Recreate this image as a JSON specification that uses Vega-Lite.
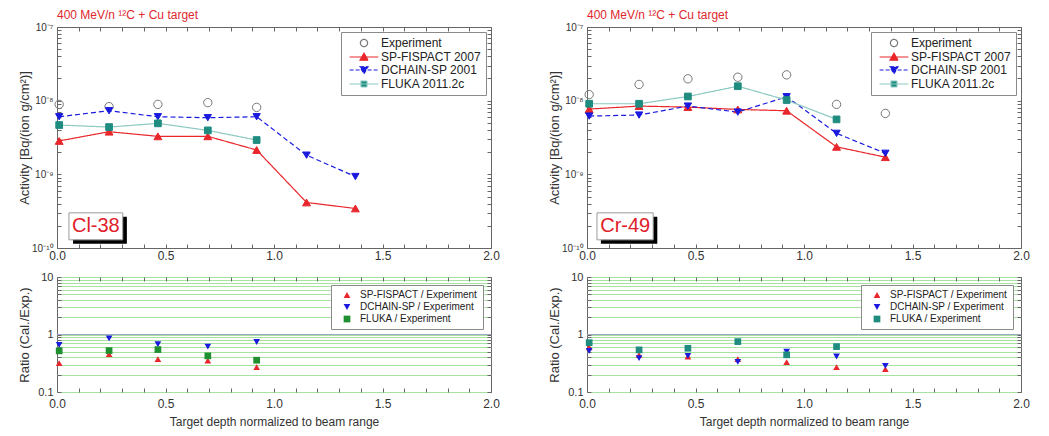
{
  "$schema": "https://vega.github.io/schema/vega-lite/v6.json",
  "padding": {"left": 18, "top": 8, "right": 5, "bottom": 3},
  "background": "white",
  "config": {
    "font": "Liberation Sans",
    "view": {"stroke": "#666666", "strokeWidth": 1},
    "axis": {"domain": false, "grid": false, "tickColor": "#666666", "tickSize": -4, "tickWidth": 1, "labelPadding": 7, "labelFontSize": 11, "labelColor": "#333333", "labelFont": "Liberation Sans", "titleFont": "Liberation Sans", "titleFontWeight": "normal", "titleFontSize": 13, "titleColor": "#333333", "titleLimit": 400, "labelOverlap": false, "labelFlush": false, "labelBound": false},
    "legend": {"labelFont": "Liberation Sans", "labelColor": "#222222"},
    "title": {"font": "Liberation Sans"}
  },
  "datasets": {
    "activity": [
      {"nuclide": "Cl-38", "series": "Experiment", "depth": 0.01, "activity": 8.9e-9},
      {"nuclide": "Cl-38", "series": "Experiment", "depth": 0.24, "activity": 8.3e-9},
      {"nuclide": "Cl-38", "series": "Experiment", "depth": 0.465, "activity": 8.9e-9},
      {"nuclide": "Cl-38", "series": "Experiment", "depth": 0.695, "activity": 9.4e-9},
      {"nuclide": "Cl-38", "series": "Experiment", "depth": 0.92, "activity": 8.1e-9},
      {"nuclide": "Cl-38", "series": "SP-FISPACT 2007", "depth": 0.01, "activity": 2.84e-9},
      {"nuclide": "Cl-38", "series": "SP-FISPACT 2007", "depth": 0.24, "activity": 3.79e-9},
      {"nuclide": "Cl-38", "series": "SP-FISPACT 2007", "depth": 0.465, "activity": 3.28e-9},
      {"nuclide": "Cl-38", "series": "SP-FISPACT 2007", "depth": 0.695, "activity": 3.28e-9},
      {"nuclide": "Cl-38", "series": "SP-FISPACT 2007", "depth": 0.92, "activity": 2.14e-9},
      {"nuclide": "Cl-38", "series": "SP-FISPACT 2007", "depth": 1.15, "activity": 4.15e-10},
      {"nuclide": "Cl-38", "series": "SP-FISPACT 2007", "depth": 1.375, "activity": 3.44e-10},
      {"nuclide": "Cl-38", "series": "DCHAIN-SP 2001", "depth": 0.01, "activity": 6.05e-9},
      {"nuclide": "Cl-38", "series": "DCHAIN-SP 2001", "depth": 0.24, "activity": 7.3e-9},
      {"nuclide": "Cl-38", "series": "DCHAIN-SP 2001", "depth": 0.465, "activity": 6.05e-9},
      {"nuclide": "Cl-38", "series": "DCHAIN-SP 2001", "depth": 0.695, "activity": 5.87e-9},
      {"nuclide": "Cl-38", "series": "DCHAIN-SP 2001", "depth": 0.92, "activity": 6.05e-9},
      {"nuclide": "Cl-38", "series": "DCHAIN-SP 2001", "depth": 1.15, "activity": 1.82e-9},
      {"nuclide": "Cl-38", "series": "DCHAIN-SP 2001", "depth": 1.375, "activity": 9.33e-10},
      {"nuclide": "Cl-38", "series": "FLUKA 2011.2c", "depth": 0.01, "activity": 4.67e-9},
      {"nuclide": "Cl-38", "series": "FLUKA 2011.2c", "depth": 0.24, "activity": 4.38e-9},
      {"nuclide": "Cl-38", "series": "FLUKA 2011.2c", "depth": 0.465, "activity": 4.92e-9},
      {"nuclide": "Cl-38", "series": "FLUKA 2011.2c", "depth": 0.695, "activity": 3.95e-9},
      {"nuclide": "Cl-38", "series": "FLUKA 2011.2c", "depth": 0.92, "activity": 2.92e-9},
      {"nuclide": "Cr-49", "series": "Experiment", "depth": 0.01, "activity": 1.21e-8},
      {"nuclide": "Cr-49", "series": "Experiment", "depth": 0.24, "activity": 1.66e-8},
      {"nuclide": "Cr-49", "series": "Experiment", "depth": 0.465, "activity": 1.98e-8},
      {"nuclide": "Cr-49", "series": "Experiment", "depth": 0.695, "activity": 2.08e-8},
      {"nuclide": "Cr-49", "series": "Experiment", "depth": 0.92, "activity": 2.24e-8},
      {"nuclide": "Cr-49", "series": "Experiment", "depth": 1.15, "activity": 8.9e-9},
      {"nuclide": "Cr-49", "series": "Experiment", "depth": 1.375, "activity": 6.71e-9},
      {"nuclide": "Cr-49", "series": "SP-FISPACT 2007", "depth": 0.01, "activity": 7.69e-9},
      {"nuclide": "Cr-49", "series": "SP-FISPACT 2007", "depth": 0.24, "activity": 8.44e-9},
      {"nuclide": "Cr-49", "series": "SP-FISPACT 2007", "depth": 0.465, "activity": 8.18e-9},
      {"nuclide": "Cr-49", "series": "SP-FISPACT 2007", "depth": 0.695, "activity": 7.6e-9},
      {"nuclide": "Cr-49", "series": "SP-FISPACT 2007", "depth": 0.92, "activity": 7.3e-9},
      {"nuclide": "Cr-49", "series": "SP-FISPACT 2007", "depth": 1.15, "activity": 2.36e-9},
      {"nuclide": "Cr-49", "series": "SP-FISPACT 2007", "depth": 1.375, "activity": 1.71e-9},
      {"nuclide": "Cr-49", "series": "DCHAIN-SP 2001", "depth": 0.01, "activity": 6.18e-9},
      {"nuclide": "Cr-49", "series": "DCHAIN-SP 2001", "depth": 0.24, "activity": 6.38e-9},
      {"nuclide": "Cr-49", "series": "DCHAIN-SP 2001", "depth": 0.465, "activity": 8.44e-9},
      {"nuclide": "Cr-49", "series": "DCHAIN-SP 2001", "depth": 0.695, "activity": 7.0e-9},
      {"nuclide": "Cr-49", "series": "DCHAIN-SP 2001", "depth": 0.92, "activity": 1.13e-8},
      {"nuclide": "Cr-49", "series": "DCHAIN-SP 2001", "depth": 1.15, "activity": 3.6e-9},
      {"nuclide": "Cr-49", "series": "DCHAIN-SP 2001", "depth": 1.375, "activity": 1.93e-9},
      {"nuclide": "Cr-49", "series": "FLUKA 2011.2c", "depth": 0.01, "activity": 9.08e-9},
      {"nuclide": "Cr-49", "series": "FLUKA 2011.2c", "depth": 0.24, "activity": 9.08e-9},
      {"nuclide": "Cr-49", "series": "FLUKA 2011.2c", "depth": 0.465, "activity": 1.14e-8},
      {"nuclide": "Cr-49", "series": "FLUKA 2011.2c", "depth": 0.695, "activity": 1.57e-8},
      {"nuclide": "Cr-49", "series": "FLUKA 2011.2c", "depth": 0.92, "activity": 1.02e-8},
      {"nuclide": "Cr-49", "series": "FLUKA 2011.2c", "depth": 1.15, "activity": 5.57e-9}
    ],
    "ratio": [
      {"nuclide": "Cl-38", "series": "SP-FISPACT / Experiment", "depth": 0.01, "ratio": 0.317},
      {"nuclide": "Cl-38", "series": "SP-FISPACT / Experiment", "depth": 0.24, "ratio": 0.454},
      {"nuclide": "Cl-38", "series": "SP-FISPACT / Experiment", "depth": 0.465, "ratio": 0.373},
      {"nuclide": "Cl-38", "series": "SP-FISPACT / Experiment", "depth": 0.695, "ratio": 0.353},
      {"nuclide": "Cl-38", "series": "SP-FISPACT / Experiment", "depth": 0.92, "ratio": 0.27},
      {"nuclide": "Cl-38", "series": "DCHAIN-SP / Experiment", "depth": 0.01, "ratio": 0.658},
      {"nuclide": "Cl-38", "series": "DCHAIN-SP / Experiment", "depth": 0.24, "ratio": 0.859},
      {"nuclide": "Cl-38", "series": "DCHAIN-SP / Experiment", "depth": 0.465, "ratio": 0.676},
      {"nuclide": "Cl-38", "series": "DCHAIN-SP / Experiment", "depth": 0.695, "ratio": 0.616},
      {"nuclide": "Cl-38", "series": "DCHAIN-SP / Experiment", "depth": 0.92, "ratio": 0.741},
      {"nuclide": "Cl-38", "series": "FLUKA / Experiment", "depth": 0.01, "ratio": 0.519},
      {"nuclide": "Cl-38", "series": "FLUKA / Experiment", "depth": 0.24, "ratio": 0.525},
      {"nuclide": "Cl-38", "series": "FLUKA / Experiment", "depth": 0.465, "ratio": 0.547},
      {"nuclide": "Cl-38", "series": "FLUKA / Experiment", "depth": 0.695, "ratio": 0.425},
      {"nuclide": "Cl-38", "series": "FLUKA / Experiment", "depth": 0.92, "ratio": 0.357},
      {"nuclide": "Cr-49", "series": "SP-FISPACT / Experiment", "depth": 0.01, "ratio": 0.6},
      {"nuclide": "Cr-49", "series": "SP-FISPACT / Experiment", "depth": 0.24, "ratio": 0.443},
      {"nuclide": "Cr-49", "series": "SP-FISPACT / Experiment", "depth": 0.465, "ratio": 0.414},
      {"nuclide": "Cr-49", "series": "SP-FISPACT / Experiment", "depth": 0.695, "ratio": 0.372},
      {"nuclide": "Cr-49", "series": "SP-FISPACT / Experiment", "depth": 0.92, "ratio": 0.331},
      {"nuclide": "Cr-49", "series": "SP-FISPACT / Experiment", "depth": 1.15, "ratio": 0.27},
      {"nuclide": "Cr-49", "series": "SP-FISPACT / Experiment", "depth": 1.375, "ratio": 0.25},
      {"nuclide": "Cr-49", "series": "DCHAIN-SP / Experiment", "depth": 0.01, "ratio": 0.519},
      {"nuclide": "Cr-49", "series": "DCHAIN-SP / Experiment", "depth": 0.24, "ratio": 0.387},
      {"nuclide": "Cr-49", "series": "DCHAIN-SP / Experiment", "depth": 0.465, "ratio": 0.425},
      {"nuclide": "Cr-49", "series": "DCHAIN-SP / Experiment", "depth": 0.695, "ratio": 0.334},
      {"nuclide": "Cr-49", "series": "DCHAIN-SP / Experiment", "depth": 0.92, "ratio": 0.505},
      {"nuclide": "Cr-49", "series": "DCHAIN-SP / Experiment", "depth": 1.15, "ratio": 0.414},
      {"nuclide": "Cr-49", "series": "DCHAIN-SP / Experiment", "depth": 1.375, "ratio": 0.285},
      {"nuclide": "Cr-49", "series": "FLUKA / Experiment", "depth": 0.01, "ratio": 0.722},
      {"nuclide": "Cr-49", "series": "FLUKA / Experiment", "depth": 0.24, "ratio": 0.54},
      {"nuclide": "Cr-49", "series": "FLUKA / Experiment", "depth": 0.465, "ratio": 0.576},
      {"nuclide": "Cr-49", "series": "FLUKA / Experiment", "depth": 0.695, "ratio": 0.752},
      {"nuclide": "Cr-49", "series": "FLUKA / Experiment", "depth": 0.92, "ratio": 0.443},
      {"nuclide": "Cr-49", "series": "FLUKA / Experiment", "depth": 1.15, "ratio": 0.616}
    ]
  },
  "columns": 2,
  "spacing": {"row": 29, "column": 96},
  "bounds": "flush",
  "concat": [
    {
      "width": 434, "height": 221,
      "title": {"text": "400 MeV/n ¹²C + Cu target", "anchor": "start", "frame": "group", "color": "#e0282e", "fontSize": 12, "fontWeight": "normal", "offset": 0},
      "data": {"name": "activity"},
      "transform": [{"filter": "datum.nuclide == 'Cl-38'"}],
      "layer": [
        {
          "transform": [{"filter": "datum.series != 'Experiment'"}],
          "mark": {"type": "line", "strokeWidth": 1.2},
          "encoding": {
            "x": {"field": "depth", "type": "quantitative", "scale": {"domain": [0, 2], "nice": false, "zero": false}, "axis": {"orient": "bottom", "title": null, "labelFontSize": 12, "labelPadding": 6, "values": [0,0.1,0.2,0.3,0.4,0.5,0.6,0.7,0.8,0.9,1,1.1,1.2,1.3,1.4,1.5,1.6,1.7,1.8,1.9,2], "labelExpr": "indexof([0, 0.5, 1, 1.5, 2], datum.value) >= 0 ? format(datum.value, '.1f') : ''"}},
            "y": {"field": "activity", "type": "quantitative", "scale": {"type": "log", "domain": [1e-10, 1e-7], "nice": false}, "axis": {"orient": "left", "title": "Activity [Bq/(ion g/cm²)]", "titlePadding": 0, "labelFontSize": 10, "labelPadding": 8, "values": [1e-10,2e-10,3e-10,4e-10,5e-10,6e-10,7e-10,8e-10,9e-10,1e-9,2e-9,3e-9,4e-9,5e-9,6e-9,7e-9,8e-9,9e-9,1e-8,2e-8,3e-8,4e-8,5e-8,6e-8,7e-8,8e-8,9e-8,1e-7], "labelExpr": "datum.value == 1e-7 ? '10⁻⁷' : datum.value == 1e-8 ? '10⁻⁸' : datum.value == 1e-9 ? '10⁻⁹' : datum.value == 1e-10 ? '10⁻¹⁰' : ''"}},
            "stroke": {"field": "series", "type": "nominal", "scale": {"domain": ["SP-FISPACT 2007", "DCHAIN-SP 2001", "FLUKA 2011.2c"], "range": ["#e8262b", "#1a1adf", "#8cc9c0"]}, "legend": null},
            "strokeDash": {"field": "series", "type": "nominal", "scale": {"domain": ["SP-FISPACT 2007", "DCHAIN-SP 2001", "FLUKA 2011.2c"], "range": [[1, 0], [5, 3], [1, 0]]}, "legend": null}
          }
        },
        {
          "mark": {"type": "point", "opacity": 1, "strokeWidth": 1},
          "encoding": {
            "x": {"field": "depth", "type": "quantitative", "axis": {"orient": "top", "title": null, "labels": false, "values": [0,0.1,0.2,0.3,0.4,0.5,0.6,0.7,0.8,0.9,1,1.1,1.2,1.3,1.4,1.5,1.6,1.7,1.8,1.9,2]}},
            "y": {"field": "activity", "type": "quantitative", "axis": {"orient": "right", "title": null, "labels": false, "values": [1e-10,2e-10,3e-10,4e-10,5e-10,6e-10,7e-10,8e-10,9e-10,1e-9,2e-9,3e-9,4e-9,5e-9,6e-9,7e-9,8e-9,9e-9,1e-8,2e-8,3e-8,4e-8,5e-8,6e-8,7e-8,8e-8,9e-8,1e-7]}},
            "shape": {"field": "series", "type": "nominal", "scale": {"domain": ["Experiment", "SP-FISPACT 2007", "DCHAIN-SP 2001", "FLUKA 2011.2c"], "range": ["circle", "triangle-up", "triangle-down", "square"]}, "legend": null},
            "fill": {"field": "series", "type": "nominal", "scale": {"domain": ["Experiment", "SP-FISPACT 2007", "DCHAIN-SP 2001", "FLUKA 2011.2c"], "range": ["transparent", "#e8262b", "#1a1adf", "#1f8c80"]}, "legend": null},
            "stroke": {"field": "series", "type": "nominal", "scale": {"domain": ["Experiment", "SP-FISPACT 2007", "DCHAIN-SP 2001", "FLUKA 2011.2c"], "range": ["#777777", "#e8262b", "#1a1adf", "#1f8c80"]}, "legend": null},
            "size": {"field": "series", "type": "nominal", "scale": {"domain": ["Experiment", "SP-FISPACT 2007", "DCHAIN-SP 2001", "FLUKA 2011.2c"], "range": [70, 45, 45, 36]}, "legend": null}
          }
        },
        {
          "transform": [{"filter": "false"}],
          "mark": {"type": "point", "opacity": 1, "filled": true},
          "encoding": {
            "shape": {"field": "series", "type": "nominal", "scale": {"domain": ["Experiment", "SP-FISPACT 2007", "DCHAIN-SP 2001", "FLUKA 2011.2c"], "range": ["M0.9,0A0.9,0.9,0,1,1,-0.9,0A0.9,0.9,0,1,1,0.9,0Z", "M-3.6,0H3.6M-1,0.8L1,0.8L0,-0.95Z", "M-3.6,0H3.6M-1,-0.8L1,-0.8L0,0.95Z", "M-3.6,0H3.6M-0.75,-0.75H0.75V0.75H-0.75Z"]}, "legend": {"title": null, "orient": "top-right", "direction": "vertical", "offset": 5, "padding": 5, "strokeColor": "#8a8a8a", "fillColor": "white", "labelFontSize": 12, "symbolSize": 64, "symbolOffset": 12, "labelOffset": 11, "rowPadding": 1, "symbolStrokeWidth": 1.2, "symbolOpacity": 1}},
            "fill": {"field": "series", "type": "nominal", "scale": {"domain": ["Experiment", "SP-FISPACT 2007", "DCHAIN-SP 2001", "FLUKA 2011.2c"], "range": ["transparent", "#e8262b", "#1a1adf", "#1f8c80"]}, "legend": {"title": null, "orient": "top-right", "direction": "vertical", "offset": 5, "padding": 5, "strokeColor": "#8a8a8a", "fillColor": "white", "labelFontSize": 12, "symbolSize": 64, "symbolOffset": 12, "labelOffset": 11, "rowPadding": 1, "symbolStrokeWidth": 1.2, "symbolOpacity": 1}},
            "stroke": {"field": "series", "type": "nominal", "scale": {"domain": ["Experiment", "SP-FISPACT 2007", "DCHAIN-SP 2001", "FLUKA 2011.2c"], "range": ["#777777", "#e8262b", "#1a1adf", "#8cc9c0"]}, "legend": {"title": null, "orient": "top-right", "direction": "vertical", "offset": 5, "padding": 5, "strokeColor": "#8a8a8a", "fillColor": "white", "labelFontSize": 12, "symbolSize": 64, "symbolOffset": 12, "labelOffset": 11, "rowPadding": 1, "symbolStrokeWidth": 1.2, "symbolOpacity": 1}},
            "strokeDash": {"field": "series", "type": "nominal", "scale": {"domain": ["Experiment", "SP-FISPACT 2007", "DCHAIN-SP 2001", "FLUKA 2011.2c"], "range": [[1, 0], [1, 0], [4, 2], [1, 0]]}, "legend": {"title": null, "orient": "top-right", "direction": "vertical", "offset": 5, "padding": 5, "strokeColor": "#8a8a8a", "fillColor": "white", "labelFontSize": 12, "symbolSize": 64, "symbolOffset": 12, "labelOffset": 11, "rowPadding": 1, "symbolStrokeWidth": 1.2, "symbolOpacity": 1}}
          }
        },
        {
          "data": {"values": [{"nuclide": "Cl-38"}]},
          "mark": {"type": "rect", "fill": "black"},
          "encoding": {"x": {"datum": 0.074, "axis": null}, "x2": {"datum": 0.322}, "y": {"datum": 2.65e-10, "axis": null}, "y2": {"datum": 1.14e-10}}
        },
        {
          "data": {"values": [{"nuclide": "Cl-38"}]},
          "mark": {"type": "rect", "fill": "white", "stroke": "#9a9a9a", "strokeWidth": 1},
          "encoding": {"x": {"datum": 0.055, "axis": null}, "x2": {"datum": 0.303}, "y": {"datum": 3.0e-10, "axis": null}, "y2": {"datum": 1.29e-10}}
        },
        {
          "data": {"values": [{"nuclide": "Cl-38"}]},
          "mark": {"type": "text", "fontSize": 20, "color": "#e0202a", "align": "center", "baseline": "middle", "font": "Liberation Sans"},
          "encoding": {"x": {"datum": 0.179, "axis": null}, "y": {"datum": 1.97e-10, "axis": null}, "text": {"field": "nuclide"}}
        }
      ],
      "resolve": {"axis": {"x": "independent", "y": "independent"}, "scale": {"shape": "independent", "fill": "independent", "stroke": "independent", "strokeDash": "independent", "size": "independent"}}
    },
    {
      "width": 434, "height": 221,
      "title": {"text": "400 MeV/n ¹²C + Cu target", "anchor": "start", "frame": "group", "color": "#e0282e", "fontSize": 12, "fontWeight": "normal", "offset": 0},
      "data": {"name": "activity"},
      "transform": [{"filter": "datum.nuclide == 'Cr-49'"}],
      "layer": [
        {
          "transform": [{"filter": "datum.series != 'Experiment'"}],
          "mark": {"type": "line", "strokeWidth": 1.2},
          "encoding": {
            "x": {"field": "depth", "type": "quantitative", "scale": {"domain": [0, 2], "nice": false, "zero": false}, "axis": {"orient": "bottom", "title": null, "labelFontSize": 12, "labelPadding": 6, "values": [0,0.1,0.2,0.3,0.4,0.5,0.6,0.7,0.8,0.9,1,1.1,1.2,1.3,1.4,1.5,1.6,1.7,1.8,1.9,2], "labelExpr": "indexof([0, 0.5, 1, 1.5, 2], datum.value) >= 0 ? format(datum.value, '.1f') : ''"}},
            "y": {"field": "activity", "type": "quantitative", "scale": {"type": "log", "domain": [1e-10, 1e-7], "nice": false}, "axis": {"orient": "left", "title": "Activity [Bq/(ion g/cm²)]", "titlePadding": 0, "labelFontSize": 10, "labelPadding": 8, "values": [1e-10,2e-10,3e-10,4e-10,5e-10,6e-10,7e-10,8e-10,9e-10,1e-9,2e-9,3e-9,4e-9,5e-9,6e-9,7e-9,8e-9,9e-9,1e-8,2e-8,3e-8,4e-8,5e-8,6e-8,7e-8,8e-8,9e-8,1e-7], "labelExpr": "datum.value == 1e-7 ? '10⁻⁷' : datum.value == 1e-8 ? '10⁻⁸' : datum.value == 1e-9 ? '10⁻⁹' : datum.value == 1e-10 ? '10⁻¹⁰' : ''"}},
            "stroke": {"field": "series", "type": "nominal", "scale": {"domain": ["SP-FISPACT 2007", "DCHAIN-SP 2001", "FLUKA 2011.2c"], "range": ["#e8262b", "#1a1adf", "#8cc9c0"]}, "legend": null},
            "strokeDash": {"field": "series", "type": "nominal", "scale": {"domain": ["SP-FISPACT 2007", "DCHAIN-SP 2001", "FLUKA 2011.2c"], "range": [[1, 0], [5, 3], [1, 0]]}, "legend": null}
          }
        },
        {
          "mark": {"type": "point", "opacity": 1, "strokeWidth": 1},
          "encoding": {
            "x": {"field": "depth", "type": "quantitative", "axis": {"orient": "top", "title": null, "labels": false, "values": [0,0.1,0.2,0.3,0.4,0.5,0.6,0.7,0.8,0.9,1,1.1,1.2,1.3,1.4,1.5,1.6,1.7,1.8,1.9,2]}},
            "y": {"field": "activity", "type": "quantitative", "axis": {"orient": "right", "title": null, "labels": false, "values": [1e-10,2e-10,3e-10,4e-10,5e-10,6e-10,7e-10,8e-10,9e-10,1e-9,2e-9,3e-9,4e-9,5e-9,6e-9,7e-9,8e-9,9e-9,1e-8,2e-8,3e-8,4e-8,5e-8,6e-8,7e-8,8e-8,9e-8,1e-7]}},
            "shape": {"field": "series", "type": "nominal", "scale": {"domain": ["Experiment", "SP-FISPACT 2007", "DCHAIN-SP 2001", "FLUKA 2011.2c"], "range": ["circle", "triangle-up", "triangle-down", "square"]}, "legend": null},
            "fill": {"field": "series", "type": "nominal", "scale": {"domain": ["Experiment", "SP-FISPACT 2007", "DCHAIN-SP 2001", "FLUKA 2011.2c"], "range": ["transparent", "#e8262b", "#1a1adf", "#1f8c80"]}, "legend": null},
            "stroke": {"field": "series", "type": "nominal", "scale": {"domain": ["Experiment", "SP-FISPACT 2007", "DCHAIN-SP 2001", "FLUKA 2011.2c"], "range": ["#777777", "#e8262b", "#1a1adf", "#1f8c80"]}, "legend": null},
            "size": {"field": "series", "type": "nominal", "scale": {"domain": ["Experiment", "SP-FISPACT 2007", "DCHAIN-SP 2001", "FLUKA 2011.2c"], "range": [70, 45, 45, 36]}, "legend": null}
          }
        },
        {
          "transform": [{"filter": "false"}],
          "mark": {"type": "point", "opacity": 1, "filled": true},
          "encoding": {
            "shape": {"field": "series", "type": "nominal", "scale": {"domain": ["Experiment", "SP-FISPACT 2007", "DCHAIN-SP 2001", "FLUKA 2011.2c"], "range": ["M0.9,0A0.9,0.9,0,1,1,-0.9,0A0.9,0.9,0,1,1,0.9,0Z", "M-3.6,0H3.6M-1,0.8L1,0.8L0,-0.95Z", "M-3.6,0H3.6M-1,-0.8L1,-0.8L0,0.95Z", "M-3.6,0H3.6M-0.75,-0.75H0.75V0.75H-0.75Z"]}, "legend": {"title": null, "orient": "top-right", "direction": "vertical", "offset": 5, "padding": 5, "strokeColor": "#8a8a8a", "fillColor": "white", "labelFontSize": 12, "symbolSize": 64, "symbolOffset": 12, "labelOffset": 11, "rowPadding": 1, "symbolStrokeWidth": 1.2, "symbolOpacity": 1}},
            "fill": {"field": "series", "type": "nominal", "scale": {"domain": ["Experiment", "SP-FISPACT 2007", "DCHAIN-SP 2001", "FLUKA 2011.2c"], "range": ["transparent", "#e8262b", "#1a1adf", "#1f8c80"]}, "legend": {"title": null, "orient": "top-right", "direction": "vertical", "offset": 5, "padding": 5, "strokeColor": "#8a8a8a", "fillColor": "white", "labelFontSize": 12, "symbolSize": 64, "symbolOffset": 12, "labelOffset": 11, "rowPadding": 1, "symbolStrokeWidth": 1.2, "symbolOpacity": 1}},
            "stroke": {"field": "series", "type": "nominal", "scale": {"domain": ["Experiment", "SP-FISPACT 2007", "DCHAIN-SP 2001", "FLUKA 2011.2c"], "range": ["#777777", "#e8262b", "#1a1adf", "#8cc9c0"]}, "legend": {"title": null, "orient": "top-right", "direction": "vertical", "offset": 5, "padding": 5, "strokeColor": "#8a8a8a", "fillColor": "white", "labelFontSize": 12, "symbolSize": 64, "symbolOffset": 12, "labelOffset": 11, "rowPadding": 1, "symbolStrokeWidth": 1.2, "symbolOpacity": 1}},
            "strokeDash": {"field": "series", "type": "nominal", "scale": {"domain": ["Experiment", "SP-FISPACT 2007", "DCHAIN-SP 2001", "FLUKA 2011.2c"], "range": [[1, 0], [1, 0], [4, 2], [1, 0]]}, "legend": {"title": null, "orient": "top-right", "direction": "vertical", "offset": 5, "padding": 5, "strokeColor": "#8a8a8a", "fillColor": "white", "labelFontSize": 12, "symbolSize": 64, "symbolOffset": 12, "labelOffset": 11, "rowPadding": 1, "symbolStrokeWidth": 1.2, "symbolOpacity": 1}}
          }
        },
        {
          "data": {"values": [{"nuclide": "Cr-49"}]},
          "mark": {"type": "rect", "fill": "black"},
          "encoding": {"x": {"datum": 0.064, "axis": null}, "x2": {"datum": 0.324}, "y": {"datum": 2.65e-10, "axis": null}, "y2": {"datum": 1.14e-10}}
        },
        {
          "data": {"values": [{"nuclide": "Cr-49"}]},
          "mark": {"type": "rect", "fill": "white", "stroke": "#9a9a9a", "strokeWidth": 1},
          "encoding": {"x": {"datum": 0.046, "axis": null}, "x2": {"datum": 0.305}, "y": {"datum": 3.0e-10, "axis": null}, "y2": {"datum": 1.29e-10}}
        },
        {
          "data": {"values": [{"nuclide": "Cr-49"}]},
          "mark": {"type": "text", "fontSize": 20, "color": "#e0202a", "align": "center", "baseline": "middle", "font": "Liberation Sans"},
          "encoding": {"x": {"datum": 0.176, "axis": null}, "y": {"datum": 1.97e-10, "axis": null}, "text": {"field": "nuclide"}}
        }
      ],
      "resolve": {"axis": {"x": "independent", "y": "independent"}, "scale": {"shape": "independent", "fill": "independent", "stroke": "independent", "strokeDash": "independent", "size": "independent"}}
    },
    {
      "width": 434, "height": 115,
      "data": {"name": "ratio"},
      "transform": [{"filter": "datum.nuclide == 'Cl-38'"}],
      "layer": [
        {
          "data": {"values": [{"nuclide": "Cl-38"}]},
          "mark": {"type": "rule", "color": "#a4a4c8", "strokeWidth": 1},
          "encoding": {
            "x": {"datum": 0, "scale": {"domain": [0, 2], "nice": false, "zero": false}, "axis": {"orient": "top", "title": null, "labels": false, "values": [0,0.1,0.2,0.3,0.4,0.5,0.6,0.7,0.8,0.9,1,1.1,1.2,1.3,1.4,1.5,1.6,1.7,1.8,1.9,2]}},
            "x2": {"datum": 2},
            "y": {"datum": 1, "scale": {"type": "log", "domain": [0.1, 10], "nice": false}, "axis": {"orient": "left", "title": "Ratio (Cal./Exp.)", "titlePadding": 6, "grid": true, "gridColor": "#a6e3a0", "gridWidth": 1, "values": [0.1,0.2,0.3,0.4,0.5,0.6,0.7,0.8,0.9,1,2,3,4,5,6,7,8,9,10], "labelExpr": "datum.value == 0.1 ? '0.1' : datum.value == 1 ? '1' : datum.value == 10 ? '10' : ''", "labelPadding": 8}}
          }
        },
        {
          "mark": {"type": "point", "filled": true, "opacity": 1, "size": 45},
          "encoding": {
            "x": {"field": "depth", "type": "quantitative", "axis": {"orient": "bottom", "title": "Target depth normalized to beam range", "titleFontSize": 12, "titlePadding": 7, "labelFontSize": 12, "labelPadding": 10, "values": [0,0.1,0.2,0.3,0.4,0.5,0.6,0.7,0.8,0.9,1,1.1,1.2,1.3,1.4,1.5,1.6,1.7,1.8,1.9,2], "labelExpr": "indexof([0, 0.5, 1, 1.5, 2], datum.value) >= 0 ? format(datum.value, '.1f') : ''"}},
            "y": {"field": "ratio", "type": "quantitative", "axis": {"orient": "right", "title": null, "labels": false, "values": [0.1,0.2,0.3,0.4,0.5,0.6,0.7,0.8,0.9,1,2,3,4,5,6,7,8,9,10]}},
            "color": {"field": "series", "type": "nominal", "scale": {"domain": ["SP-FISPACT / Experiment", "DCHAIN-SP / Experiment", "FLUKA / Experiment"], "range": ["#e8262b", "#1a1adf", "#1f8f2f"]}, "legend": {"title": null, "orient": "top-right", "direction": "vertical", "offset": 8, "padding": 5, "strokeColor": "#8a8a8a", "fillColor": "white", "labelFontSize": 10, "symbolSize": 45, "symbolOffset": 6, "labelOffset": 8, "rowPadding": 2}},
            "shape": {"field": "series", "type": "nominal", "scale": {"domain": ["SP-FISPACT / Experiment", "DCHAIN-SP / Experiment", "FLUKA / Experiment"], "range": ["triangle-up", "triangle-down", "square"]}, "legend": {"title": null, "orient": "top-right", "direction": "vertical", "offset": 8, "padding": 5, "strokeColor": "#8a8a8a", "fillColor": "white", "labelFontSize": 10, "symbolSize": 45, "symbolOffset": 6, "labelOffset": 8, "rowPadding": 2}}
          }
        }
      ],
      "resolve": {"axis": {"x": "independent", "y": "independent"}, "scale": {"color": "independent", "shape": "independent"}}
    },
    {
      "width": 434, "height": 115,
      "data": {"name": "ratio"},
      "transform": [{"filter": "datum.nuclide == 'Cr-49'"}],
      "layer": [
        {
          "data": {"values": [{"nuclide": "Cr-49"}]},
          "mark": {"type": "rule", "color": "#a4a4c8", "strokeWidth": 1},
          "encoding": {
            "x": {"datum": 0, "scale": {"domain": [0, 2], "nice": false, "zero": false}, "axis": {"orient": "top", "title": null, "labels": false, "values": [0,0.1,0.2,0.3,0.4,0.5,0.6,0.7,0.8,0.9,1,1.1,1.2,1.3,1.4,1.5,1.6,1.7,1.8,1.9,2]}},
            "x2": {"datum": 2},
            "y": {"datum": 1, "scale": {"type": "log", "domain": [0.1, 10], "nice": false}, "axis": {"orient": "left", "title": "Ratio (Cal./Exp.)", "titlePadding": 6, "grid": true, "gridColor": "#a6e3a0", "gridWidth": 1, "values": [0.1,0.2,0.3,0.4,0.5,0.6,0.7,0.8,0.9,1,2,3,4,5,6,7,8,9,10], "labelExpr": "datum.value == 0.1 ? '0.1' : datum.value == 1 ? '1' : datum.value == 10 ? '10' : ''", "labelPadding": 8}}
          }
        },
        {
          "mark": {"type": "point", "filled": true, "opacity": 1, "size": 45},
          "encoding": {
            "x": {"field": "depth", "type": "quantitative", "axis": {"orient": "bottom", "title": "Target depth normalized to beam range", "titleFontSize": 12, "titlePadding": 7, "labelFontSize": 12, "labelPadding": 10, "values": [0,0.1,0.2,0.3,0.4,0.5,0.6,0.7,0.8,0.9,1,1.1,1.2,1.3,1.4,1.5,1.6,1.7,1.8,1.9,2], "labelExpr": "indexof([0, 0.5, 1, 1.5, 2], datum.value) >= 0 ? format(datum.value, '.1f') : ''"}},
            "y": {"field": "ratio", "type": "quantitative", "axis": {"orient": "right", "title": null, "labels": false, "values": [0.1,0.2,0.3,0.4,0.5,0.6,0.7,0.8,0.9,1,2,3,4,5,6,7,8,9,10]}},
            "color": {"field": "series", "type": "nominal", "scale": {"domain": ["SP-FISPACT / Experiment", "DCHAIN-SP / Experiment", "FLUKA / Experiment"], "range": ["#e8262b", "#1a1adf", "#1f8c80"]}, "legend": {"title": null, "orient": "top-right", "direction": "vertical", "offset": 8, "padding": 5, "strokeColor": "#8a8a8a", "fillColor": "white", "labelFontSize": 10, "symbolSize": 45, "symbolOffset": 6, "labelOffset": 8, "rowPadding": 2}},
            "shape": {"field": "series", "type": "nominal", "scale": {"domain": ["SP-FISPACT / Experiment", "DCHAIN-SP / Experiment", "FLUKA / Experiment"], "range": ["triangle-up", "triangle-down", "square"]}, "legend": {"title": null, "orient": "top-right", "direction": "vertical", "offset": 8, "padding": 5, "strokeColor": "#8a8a8a", "fillColor": "white", "labelFontSize": 10, "symbolSize": 45, "symbolOffset": 6, "labelOffset": 8, "rowPadding": 2}}
          }
        }
      ],
      "resolve": {"axis": {"x": "independent", "y": "independent"}, "scale": {"color": "independent", "shape": "independent"}}
    }
  ]
}
